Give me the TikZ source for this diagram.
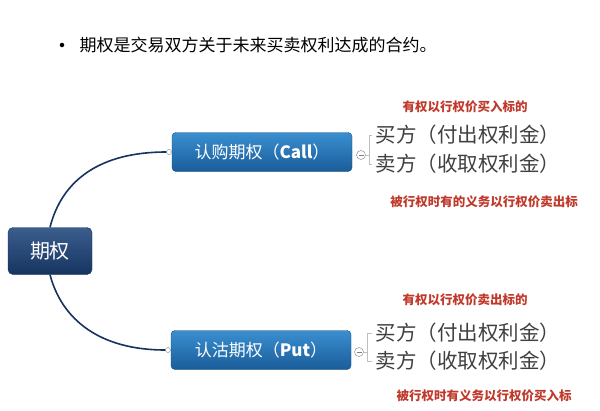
\documentclass[tikz,border=0pt]{standalone}
\usepackage{fontspec}
\setmainfont{Noto Sans CJK SC}
\usetikzlibrary{shapes.geometric}
\definecolor{boxtop}{HTML}{3A8FD0}
\definecolor{boxbot}{HTML}{1A5C9A}
\definecolor{navtop}{HTML}{3B5E8E}
\definecolor{navbot}{HTML}{16345F}
\definecolor{redt}{HTML}{C0392B}
\begin{document}
\begin{tikzpicture}[x=1pt,y=-1pt,
  sub/.style={rounded corners=4pt,top color=boxtop,bottom color=boxbot,draw=boxbot!80!black,text=white,minimum width=180pt,minimum height=39pt,font=\fontsize{17}{17}\selectfont},
  root/.style={rounded corners=5pt,top color=navtop,bottom color=navbot,draw=navbot,text=white,minimum width=84pt,minimum height=47pt,font=\fontsize{20}{20}\selectfont},
  knob/.style={circle,draw=gray,fill=white,inner sep=0pt,minimum size=5pt},
  item/.style={anchor=west,text=black!75,font=\fontsize{20.5}{20.5}\selectfont},
  note/.style={text=redt,font=\bfseries\fontsize{12.5}{13}\selectfont},
  link/.style={draw=navbot,line width=1.6pt}]
\useasboundingbox (0,0) rectangle (600,410);
\fill[white] (0,0) rectangle (600,410);
\node[circle,fill=black,inner sep=1.6pt] (bul) at (62,45) {};
\node[anchor=west,font=\fontsize{17}{17}\selectfont] (title) at (76,45) {期权是交易双方关于未来买卖权利达成的合约。};
\node[root] (root) at (50,251) {期权};
\node[sub] (call) at (262,152) {认购期权（\textbf{Call}）};
\node[sub] (put) at (261,350) {认沽期权（\textbf{Put}）};
\node[knob] (cl) at (169,152) {};
\node[knob] (pl) at (168,350) {};
\node[knob,minimum size=9pt] (cr) at (361,155) {};
\node[knob,minimum size=9pt] (pr) at (359,352) {};
\draw[gray,line width=0.6pt] ([xshift=-2.5pt]cr.center) -- ([xshift=2.5pt]cr.center);
\draw[gray,line width=0.6pt] ([xshift=-2.5pt]pr.center) -- ([xshift=2.5pt]pr.center);
\draw[link] (root.north) .. controls (62,180) and (100,152) .. (cl.west);
\draw[link] (root.south) .. controls (62,320) and (100,350) .. (pl.west);
\node[item] (c1) at (372,135) {买方（付出权利金）};
\node[item] (c2) at (372,164) {卖方（收取权利金）};
\node[item] (p1) at (372,333) {买方（付出权利金）};
\node[item] (p2) at (372,361) {卖方（收取权利金）};
\draw[gray!50] (cr.east) -- ++(3,0) coordinate (cb) (c1.west) -| (cb) |- (c2.west);
\draw[gray!50] (pr.east) -- ++(3,0) coordinate (pb) (p1.west) -| (pb) |- (p2.west);
\node[note] (n1) at (465,107) {有权以行权价买入标的};
\node[note] (n2) at (484,202) {被行权时有的义务以行权价卖出标};
\node[note] (n3) at (465,300) {有权以行权价卖出标的};
\node[note] (n4) at (484,396) {被行权时有义务以行权价买入标};
\end{tikzpicture}
\end{document}
